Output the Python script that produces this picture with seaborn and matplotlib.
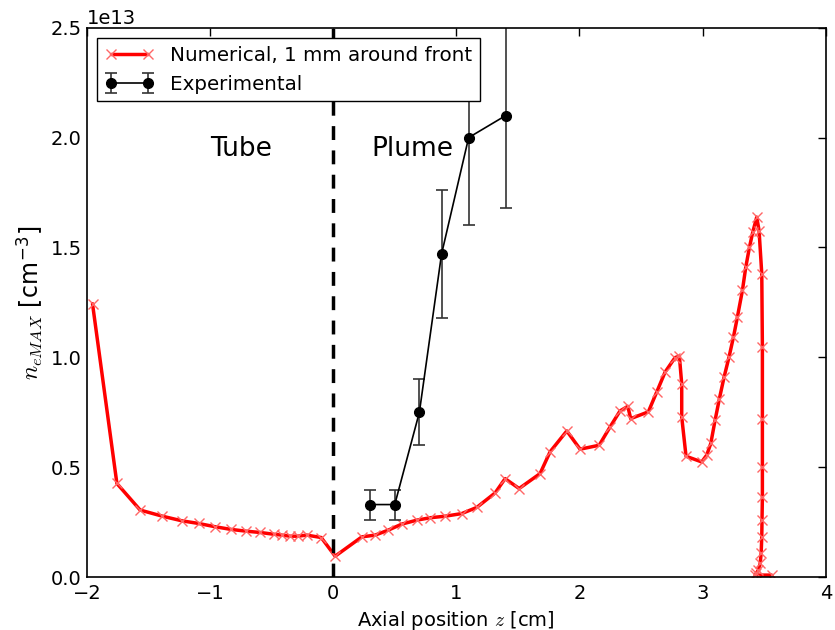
import numpy as np
import pandas as pd
import matplotlib
matplotlib.use("Agg")
import matplotlib.pyplot as plt
import seaborn as sns

# Numerical curve (z in cm, n in 1e13 cm^-3)
num_z = [-1.954, -1.756, -1.567, -1.386, -1.228, -1.093, -0.958, -0.830, -0.709,
         -0.593, -0.484, -0.417, -0.349, -0.287, -0.214, -0.097, 0.016,
         0.233, 0.341, 0.449, 0.557, 0.679, 0.787, 0.909, 1.044, 1.166, 1.315,
         1.396, 1.510, 1.680, 1.761, 1.897, 2.005, 2.160, 2.248, 2.329, 2.392,
         2.416, 2.559, 2.627, 2.695, 2.776, 2.811, 2.830, 2.830, 2.865, 2.992,
         3.033, 3.066, 3.101, 3.136, 3.174, 3.214, 3.250, 3.282, 3.323, 3.350,
         3.380, 3.407, 3.439, 3.458, 3.480, 3.485, 3.485, 3.485, 3.485, 3.482,
         3.480, 3.475, 3.467, 3.453, 3.434, 3.426, 3.560]
num_n = [1.244, 0.426, 0.305, 0.277, 0.256, 0.244, 0.229, 0.217, 0.209,
         0.203, 0.195, 0.191, 0.186, 0.186, 0.191, 0.180, 0.095,
         0.183, 0.191, 0.214, 0.241, 0.259, 0.270, 0.277, 0.289, 0.317, 0.383,
         0.448, 0.403, 0.471, 0.570, 0.665, 0.582, 0.600, 0.683, 0.756, 0.777,
         0.721, 0.752, 0.842, 0.933, 0.999, 1.005, 0.880, 0.729, 0.550, 0.524,
         0.555, 0.608, 0.714, 0.812, 0.910, 1.001, 1.092, 1.183, 1.305, 1.410,
         1.501, 1.570, 1.638, 1.577, 1.380, 1.047, 0.721, 0.501, 0.365, 0.259,
         0.183, 0.108, 0.062, 0.032, 0.017, 0.009, 0.009]

# Experimental points
exp_z = [0.30, 0.50, 0.70, 0.88, 1.10, 1.40]
exp_n = [0.33, 0.33, 0.75, 1.47, 2.00, 2.10]
exp_err = [0.068, 0.068, 0.15, 0.29, 0.40, 0.42]

scale = 1e13

sns.set_style("white")
plt.rcParams['font.family'] = ['DejaVu Sans']
plt.rcParams['text.color'] = 'black'
plt.rcParams['axes.labelcolor'] = 'black'
plt.rcParams['mathtext.fontset'] = 'cm'
plt.rcParams['xtick.direction'] = 'in'
plt.rcParams['ytick.direction'] = 'in'
plt.rcParams['xtick.top'] = True
plt.rcParams['ytick.right'] = True

fig = plt.figure(figsize=(8.35, 6.3), dpi=100)
ax = fig.add_axes([0.104, 0.084, 0.885, 0.872])

df = pd.DataFrame({"z": num_z, "n": np.array(num_n) * scale})
sns.lineplot(data=df, x="z", y="n", sort=False, estimator=None, ax=ax,
             color="red", linewidth=2.5, marker="x", markersize=7,
             markeredgewidth=1.0, markeredgecolor=(1, 0.4, 0.4),
             label="Numerical, 1 mm around front")

ax.errorbar(exp_z, np.array(exp_n) * scale, yerr=np.array(exp_err) * scale,
            color="black", linewidth=1.2, marker="o", markersize=7,
            ecolor="#333333", elinewidth=1.2, capsize=4, capthick=1.2,
            label="Experimental")

ax.axvline(0, color="black", linestyle="--", linewidth=2.5, dashes=(4, 3))

ax.text(-0.75, 1.95 * scale, "Tube", fontsize=19, ha="center", va="center")
ax.text(0.64, 1.95 * scale, "Plume", fontsize=19, ha="center", va="center")

ax.set_xlim(-2, 4)
ax.set_ylim(0, 2.5e13)
ax.set_xticks([-2, -1, 0, 1, 2, 3, 4])
ax.set_yticks(np.array([0, 0.5, 1.0, 1.5, 2.0, 2.5]) * scale)
ax.tick_params(labelsize=14, length=6, width=1, colors="black")
ax.tick_params(axis="x", pad=5)
ax.yaxis.get_offset_text().set_fontsize(14)

ax.set_xlabel("Axial position $z$ [cm]", fontsize=14)
ax.set_ylabel(r"$n_{eMAX}$ [cm$^{\mathregular{-3}}$]", fontsize=17)

for s in ax.spines.values():
    s.set_color("black")
    s.set_linewidth(1.2)

leg = ax.legend(loc="upper left", fontsize=14.3, fancybox=False, framealpha=1,
                edgecolor="black", borderaxespad=0.5, handlelength=2.5,
                numpoints=2)
leg.get_frame().set_linewidth(1.0)

fig.savefig("out.png", dpi=100)
